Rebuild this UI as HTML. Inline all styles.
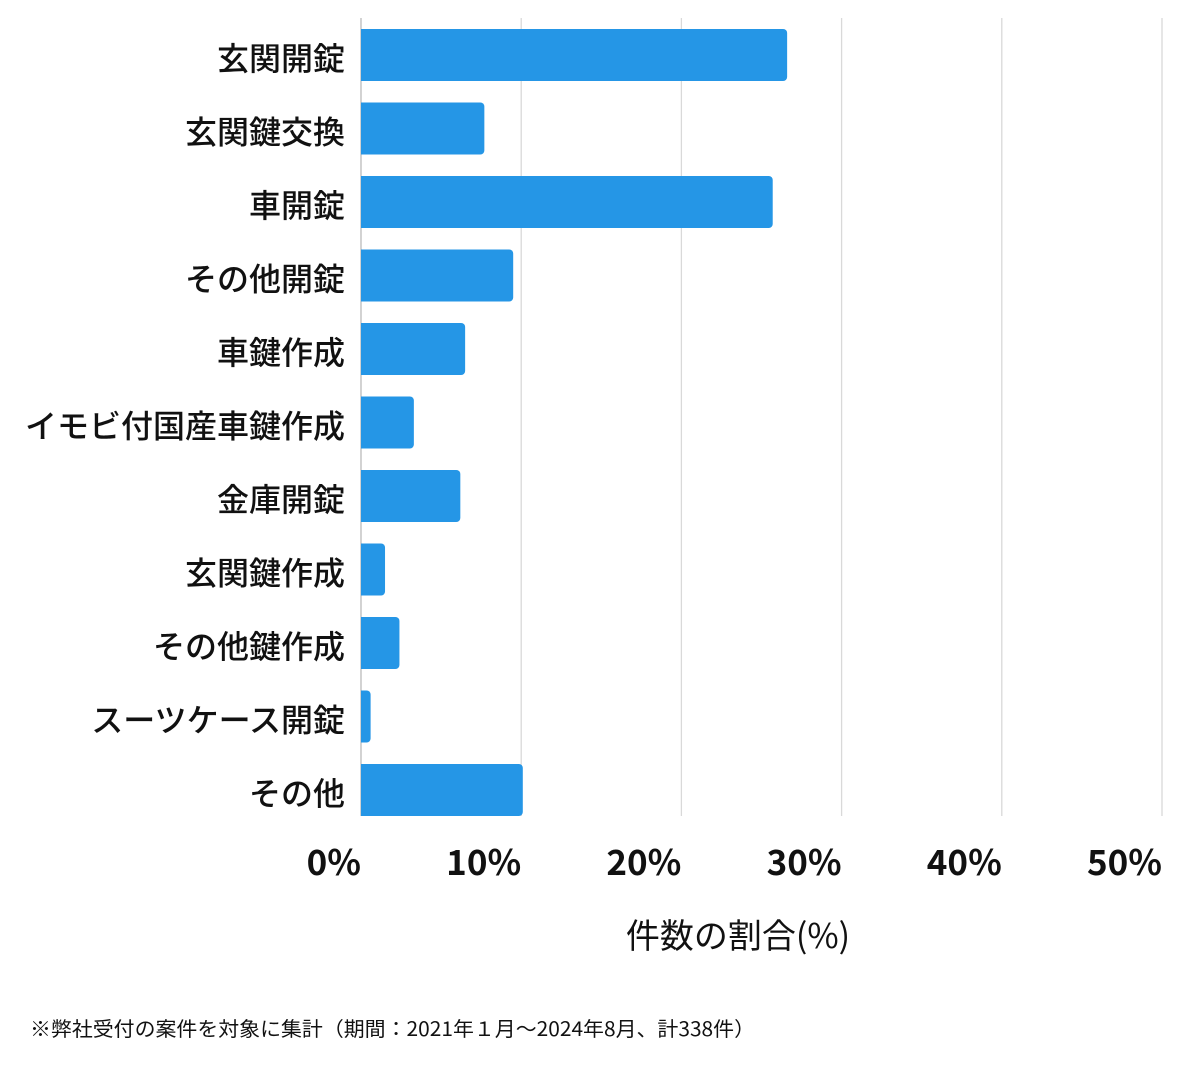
<!DOCTYPE html>
<html><head><meta charset="utf-8">
<style>
body{margin:0;background:#fff;}
svg text{font-family:"Noto Sans CJK JP","Liberation Sans",sans-serif;}
</style></head>
<body>
<svg id="chart" width="1200" height="1069" xmlns="http://www.w3.org/2000/svg"></svg>
<script>
const categories=["玄関開錠","玄関鍵交換","車開錠","その他開錠","車鍵作成","イモビ付国産車鍵作成","金庫開錠","玄関鍵作成","その他鍵作成","スーツケース開錠","その他"];
const values=[26.6,7.7,25.7,9.5,6.5,3.3,6.2,1.5,2.4,0.6,10.1];
const ticks=[0,10,20,30,40,50];
const tickLabels=["0%","10%","20%","30%","40%","50%"];
const svg=document.getElementById('chart');
const NS="http://www.w3.org/2000/svg";
const x0=361,x1=1162,xmax=50;
const xs=v=>x0+(x1-x0)*v/xmax;
const rowTop=29,rowPitch=73.5,barH=52;
function mk(t,a,txt){const e=document.createElementNS(NS,t);for(const k in a)e.setAttribute(k,a[k]);if(txt!=null)e.textContent=txt;svg.appendChild(e);return e;}
ticks.forEach((t,i)=>{
  const g=mk('line',{x1:xs(t),x2:xs(t),y1:18,y2:816,stroke:i==0?'#bbb':'#d9d9d9','stroke-width':1.3});
  
  
  const l=mk('text',{x:xs(t),y:875,'text-anchor':'end','font-size':35,'font-weight':'bold',fill:'#111'},tickLabels[i]);
  
  
});
categories.forEach((c,i)=>{
  const y=rowTop+i*rowPitch;
  const w=xs(values[i])-x0;
  const b=mk('path',{d:`M${x0},${y}h${w-4}a4,4 0 0 1 4,4v${barH-8}a4,4 0 0 1 -4,4h${-(w-4)}z`,fill:'#2596e6'});
  
  
  const l=mk('text',{x:345,y:y+barH/2+15,'text-anchor':'end','font-size':32,'font-weight':500,fill:'#111'},c);
  
  
});
const at=mk('text',{x:738,y:948,'text-anchor':'middle','font-size':34,fill:'#111'},'件数の割合(%)');


const fn=mk('text',{x:30,y:1036,'font-size':20,fill:'#111',textLength:725,lengthAdjust:'spacingAndGlyphs'},'※弊社受付の案件を対象に集計（期間：2021年１月～2024年8月、計338件）');


</script>
</body></html>
